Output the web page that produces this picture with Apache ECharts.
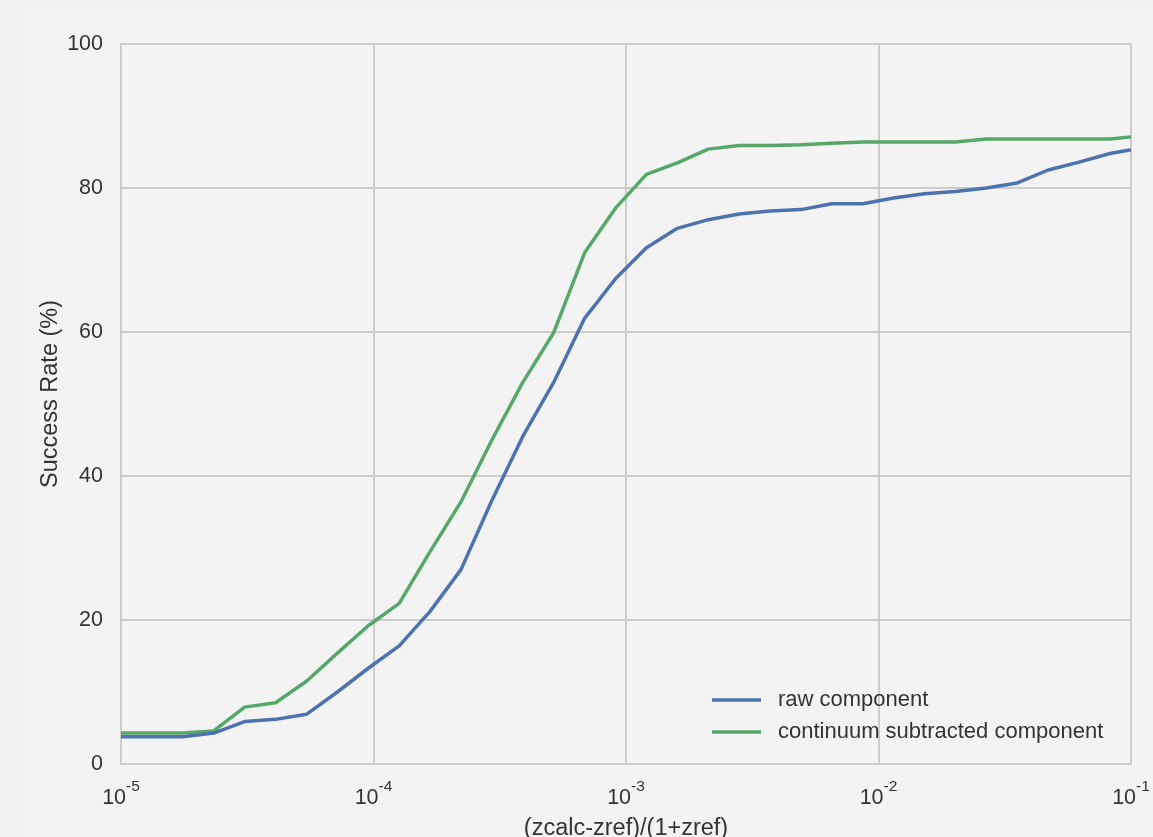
<!DOCTYPE html>
<html>
<head>
<meta charset="utf-8">
<script src="https://cdn.jsdelivr.net/npm/echarts@6/dist/echarts.min.js"></script>
<style>
  html, body { margin: 0; padding: 0; background: #f0f1f3; }
  #chart { position: absolute; left: 20px; top: 4px; width: 1133px; height: 833px; background: #f3f3f3; }
</style>
</head>
<body>
<div id="chart"></div>
<script>
// Redshift error threshold (log-spaced) and success rates for each component
const thresholds = [
  1.000e-5, 1.326e-5, 1.757e-5, 2.330e-5, 3.088e-5, 4.093e-5, 5.426e-5, 7.193e-5,
  9.532e-5, 1.264e-4, 1.675e-4, 2.220e-4, 2.943e-4, 3.901e-4, 5.171e-4, 6.855e-4,
  9.087e-4, 1.205e-3, 1.597e-3, 2.116e-3, 2.805e-3, 3.719e-3, 4.929e-3, 6.534e-3,
  8.661e-3, 1.148e-2, 1.522e-2, 2.017e-2, 2.674e-2, 3.545e-2, 4.699e-2, 6.229e-2,
  8.257e-2, 1.000e-1
];
const rawComponent = [
  3.8, 3.8, 3.8, 4.3, 5.9, 6.2, 6.9, 10.0,
  13.3, 16.4, 21.2, 27.0, 36.6, 45.5, 53.0, 61.9,
  67.4, 71.7, 74.4, 75.6, 76.4, 76.8, 77.0, 77.8,
  77.8, 78.6, 79.2, 79.5, 80.0, 80.7, 82.5, 83.6,
  84.8, 85.3
];
const contSubtracted = [
  4.3, 4.3, 4.3, 4.6, 7.9, 8.5, 11.5, 15.4,
  19.2, 22.3, 29.5, 36.4, 45.0, 53.0, 59.9, 71.0,
  77.2, 81.9, 83.5, 85.4, 85.9, 85.9, 86.0, 86.2,
  86.4, 86.4, 86.4, 86.4, 86.8, 86.8, 86.8, 86.8,
  86.8, 87.1
];
const seriesNames = ['raw component', 'continuum subtracted component'];
const yTicks = [0, 20, 40, 60, 80, 100];

const pairs = (ys) => thresholds.map((x, i) => [x, ys[i]]);

const FONT = '"Liberation Sans", Arial, sans-serif';
const chart = echarts.init(document.getElementById('chart'), null, { renderer: 'canvas' });

chart.setOption({
  backgroundColor: '#f3f3f3',
  animation: false,
  textStyle: { fontFamily: FONT, color: '#333' },
  grid: { left: 101, top: 40, width: 1010, height: 720, containLabel: false, outerBoundsMode: 'none' },
  xAxis: {
    type: 'log',
    logBase: 10,
    min: 1e-5,
    max: 1e-1,
    name: '(zcalc-zref)/(1+zref)',
    nameLocation: 'middle',
    nameGap: 53,
    nameMoveOverlap: false,
    nameTextStyle: { fontFamily: FONT, fontSize: 23.5, color: '#333', verticalAlign: 'top' },
    axisLine: { show: true, lineStyle: { color: '#cccccc', width: 2 } },
    axisTick: { show: false },
    splitLine: { show: true, lineStyle: { color: '#cccccc', width: 2 } },
    minorSplitLine: { show: false },
    axisLabel: {
      margin: 15,
      formatter: (v) => '{b|10}{sup|' + Math.round(Math.log10(v)) + '}',
      rich: {
        b: { fontFamily: FONT, fontSize: 21.5, color: '#333', lineHeight: 30, verticalAlign: 'bottom' },
        sup: { fontFamily: FONT, fontSize: 15.5, color: '#333', lineHeight: 15, verticalAlign: 'top' }
      }
    }
  },
  yAxis: {
    type: 'value',
    min: yTicks[0],
    max: yTicks[yTicks.length - 1],
    interval: 20,
    name: 'Success Rate (%)',
    nameLocation: 'middle',
    nameGap: 58,
    nameMoveOverlap: false,
    nameTextStyle: { fontFamily: FONT, fontSize: 23.5, color: '#333', padding: [0, 0, 0, 20] },
    axisLine: { show: true, lineStyle: { color: '#cccccc', width: 2 } },
    axisTick: { show: false },
    splitLine: { show: true, lineStyle: { color: '#cccccc', width: 2 } },
    axisLabel: { margin: 18, fontFamily: FONT, fontSize: 21.5, color: '#333' }
  },
  legend: {
    orient: 'vertical',
    left: 687,
    top: 680,
    icon: 'rect',
    itemWidth: 49,
    itemHeight: 3.5,
    itemGap: 10,
    textStyle: { fontFamily: FONT, fontSize: 22, color: '#333', lineHeight: 22, padding: [0, 0, 0, 12] },
    data: seriesNames
  },
  series: [
    {
      name: seriesNames[0],
      type: 'line',
      data: pairs(rawComponent),
      showSymbol: false,
      symbol: 'none',
      color: '#4c72b0',
      lineStyle: { color: '#4c72b0', width: 3.5 },
      z: 3
    },
    {
      name: seriesNames[1],
      type: 'line',
      data: pairs(contSubtracted),
      showSymbol: false,
      symbol: 'none',
      color: '#55a868',
      lineStyle: { color: '#55a868', width: 3.5 },
      z: 2
    }
  ]
});
</script>
</body>
</html>
